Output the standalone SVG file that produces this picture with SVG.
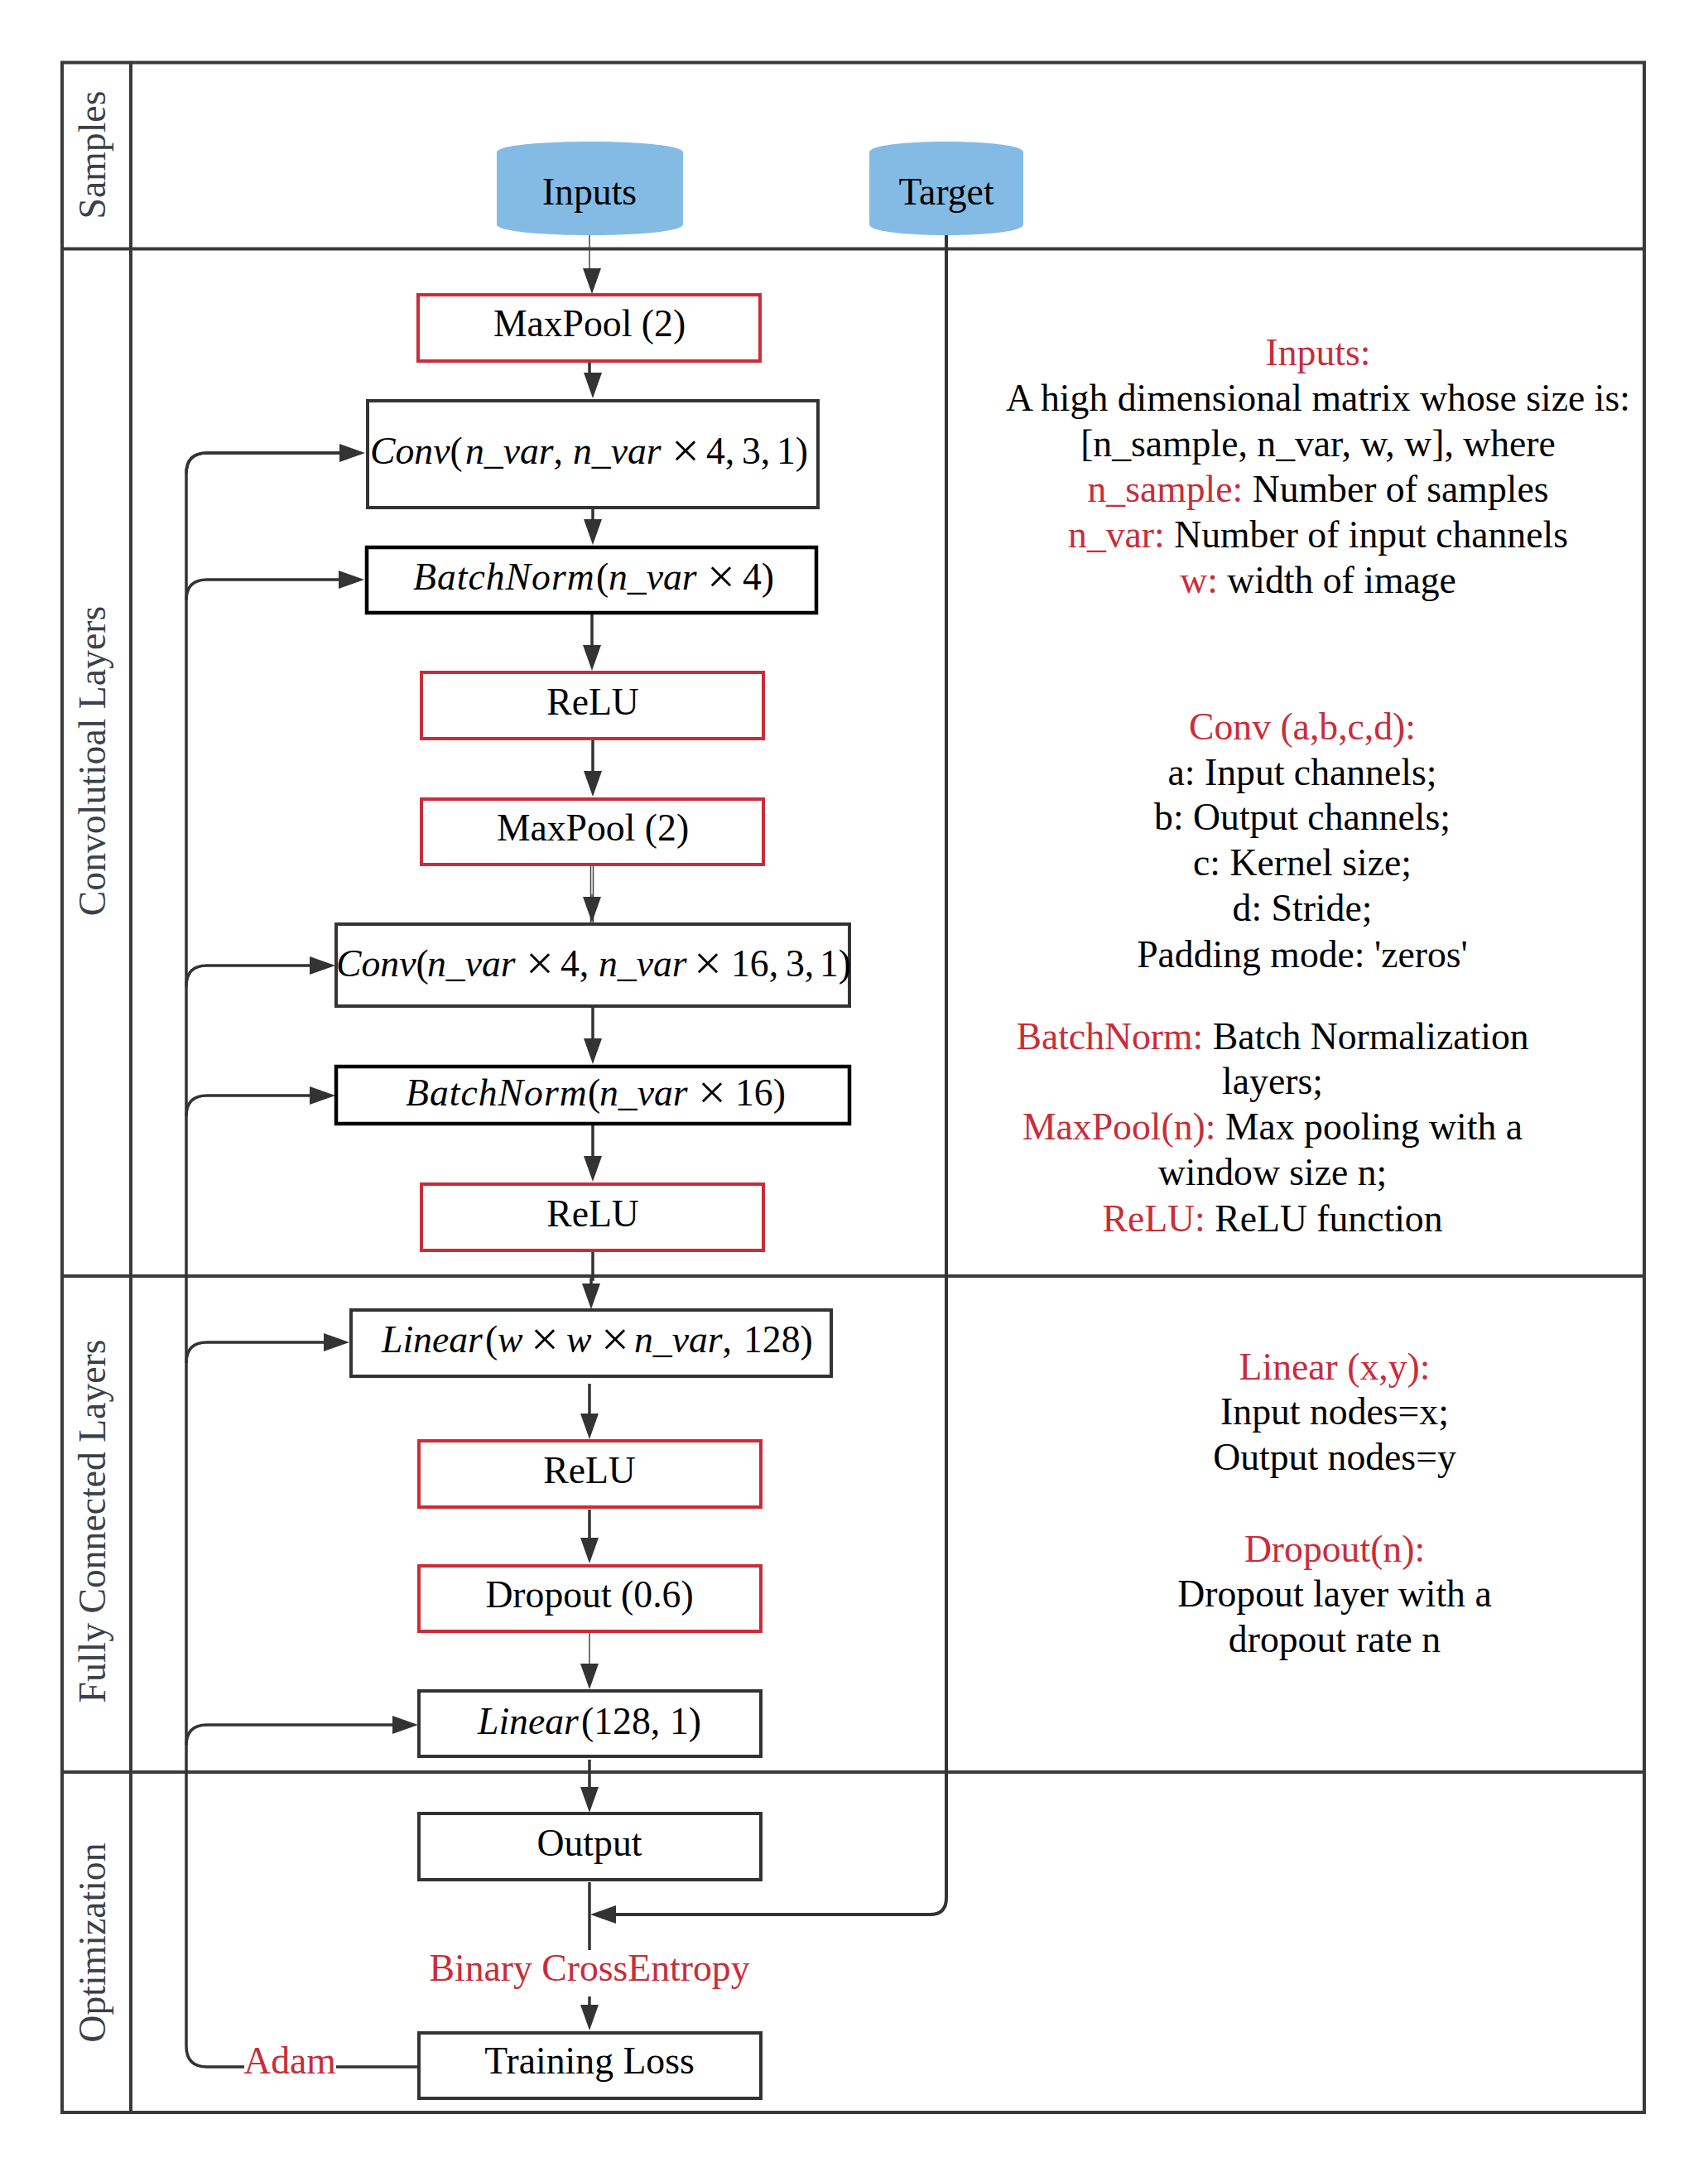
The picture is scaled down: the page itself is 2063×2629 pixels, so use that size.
<svg xmlns="http://www.w3.org/2000/svg" width="2063" height="2629" viewBox="0 0 2063 2629">
<style>
text{font-family:"Liberation Serif","Times New Roman",serif;font-size:45.700px;fill:#000}
.c{text-anchor:middle}
.r{fill:#c92d39}
tspan.r{fill:#c92d39}
.i{font-style:italic}
.x{font-size:60px}
.lane{fill:#3a414a;text-anchor:middle}
.red{fill:#fff;stroke:#c92d39;stroke-width:4}
.blk{fill:#fff;stroke:#333;stroke-width:4}
.bk2{fill:#fff;stroke:#000;stroke-width:4.5}
.cyl{fill:#83bbe5}
.l{fill:none;stroke:#333;stroke-width:4}
.th{fill:none;stroke:#333;stroke-width:3.5}
.tn{fill:none;stroke:#444;stroke-width:1.5}
.arr{marker-end:url(#a)}
.f{fill:none;stroke:#3a3a3a;stroke-width:4}
</style>
<defs>
<marker id="a" markerUnits="userSpaceOnUse" markerWidth="32" markerHeight="24" refX="21" refY="12" orient="auto"><path d="M0 1 L31 12 L0 23 Z" fill="#333"/></marker>
</defs>
<rect width="2063" height="2629" fill="#fff"/>
<g id="lanes">
<rect class="f" x="75" y="75.500" width="1911" height="2475.500"/>
<path class="f" d="M158 75.500V2551M75 300.500H1986M75 1541H1986M75 2140H1986"/>
<text class="lane" transform="translate(127 187) rotate(-90)">Samples</text>
<text class="lane" transform="translate(127 919) rotate(-90)">Convolutioal Layers</text>
<text class="lane" transform="translate(127 1837) rotate(-90)">Fully Connected Layers</text>
<text class="lane" transform="translate(127 2346) rotate(-90)">Optimization</text>
</g>
<g id="connectors">
<path class="tn arr" d="M712 284V330L715 336V345"/>
<path class="th arr" d="M712 436V460H716V471"/>
<path class="th arr" d="M716 613V648"/>
<path class="th arr" d="M715 740V800"/>
<path class="th arr" d="M716 892V952"/>
<path class="tn" d="M713.500 1040V1114M716.500 1040V1114"/>
<path class="tn arr" d="M715 1080V1104"/>
<path class="th arr" d="M716 1215V1275"/>
<path class="th arr" d="M716 1357V1417"/>
<path class="th arr" d="M716 1510V1545H714V1571"/>
<path class="th arr" d="M712 1671V1728"/>
<path class="th arr" d="M712 1823V1878"/>
<path class="tn arr" d="M712 1970V2030"/>
<path class="th arr" d="M712 2125V2179"/>
<path class="th" d="M712 2273V2355"/>
<path class="th arr" d="M712 2411V2442"/>
<path class="l arr" d="M1143 284V2292Q1143 2312 1123 2312H723"/>
<path class="th" d="M505 2496H406M295 2496H250Q225 2496 225 2471V572Q225 547 250 547H431"/>
<path class="th arr" d="M225 572Q225 547 250 547H431"/>
<path class="th arr" d="M225 725Q225 700 250 700H430"/>
<path class="th arr" d="M225 1191Q225 1166 250 1166H395"/>
<path class="th arr" d="M225 1348Q225 1323 250 1323H395"/>
<path class="th arr" d="M225 1646Q225 1621 250 1621H412"/>
<path class="th arr" d="M225 2108Q225 2083 250 2083H495"/>
</g>
<g id="n-inputs"><path class="cyl" d="M600 184C600 176 650 171 712.500 171S825 176 825 184V271C825 279 775 284 712.500 284S600 279 600 271Z"/><text class="c" x="712" y="247">Inputs</text></g>
<g id="n-target"><path class="cyl" d="M1050 184C1050 176 1090 171 1143 171S1236 176 1236 184V271C1236 279 1196 284 1143 284S1050 279 1050 271Z"/><text class="c" x="1143" y="247">Target</text></g>
<g id="n-maxpool1"><rect class="red" x="505" y="356" width="413" height="80"/><text class="c" x="712" y="406">MaxPool (2)</text></g>
<g id="n-conv1"><rect class="blk" x="444" y="484" width="544" height="129"/><text y="560"><tspan class="i" x="447">Conv</tspan>(<tspan class="i" x="562">n_var</tspan>,<tspan class="i" x="692">n_var</tspan><tspan class="x" x="811" dy="4">×</tspan><tspan x="853" dy="-4">4,</tspan><tspan x="896">3,</tspan><tspan x="938">1)</tspan></text></g>
<g id="n-bn1"><rect class="bk2" x="443" y="661" width="543" height="79"/><text y="712"><tspan class="i" x="499" letter-spacing="1">BatchNorm</tspan><tspan x="720">(</tspan><tspan class="i" x="735">n_var</tspan><tspan class="x" x="854" dy="4">×</tspan><tspan x="897" dy="-4">4)</tspan></text></g>
<g id="n-relu1"><rect class="red" x="509" y="812" width="413" height="80"/><text class="c" x="716" y="863">ReLU</text></g>
<g id="n-maxpool2"><rect class="red" x="509" y="965" width="413" height="79"/><text class="c" x="716" y="1015">MaxPool (2)</text></g>
<g id="n-conv2"><rect class="blk" x="406" y="1116" width="620" height="99"/><text y="1179"><tspan class="i" x="406">Conv</tspan>(<tspan class="i" x="516">n_var</tspan><tspan class="x" x="635" dy="4">×</tspan><tspan x="677" dy="-4">4,</tspan><tspan class="i" x="723">n_var</tspan><tspan class="x" x="838" dy="4">×</tspan><tspan x="883" dy="-4">16,</tspan><tspan x="949">3,</tspan><tspan x="990">1)</tspan></text></g>
<g id="n-bn2"><rect class="bk2" x="406" y="1288" width="620" height="69"/><text y="1335"><tspan class="i" x="490" letter-spacing="1">BatchNorm</tspan><tspan x="710">(</tspan><tspan class="i" x="724">n_var</tspan><tspan class="x" x="843" dy="4">×</tspan><tspan x="888" dy="-4">16)</tspan></text></g>
<g id="n-relu2"><rect class="red" x="509" y="1430" width="413" height="80"/><text class="c" x="716" y="1481">ReLU</text></g>
<g id="n-linear1"><rect class="blk" x="424" y="1582" width="580" height="80"/><text y="1633"><tspan class="i" x="461">Linear</tspan><tspan x="586">(</tspan><tspan class="i" x="601">w</tspan><tspan class="x" x="641" dy="4">×</tspan><tspan class="i" x="684" dy="-4">w</tspan><tspan class="x" x="726" dy="4">×</tspan><tspan class="i" x="766" dy="-4">n_var</tspan>,<tspan x="898">128)</tspan></text></g>
<g id="n-relu3"><rect class="red" x="506" y="1740" width="413" height="80"/><text class="c" x="712" y="1791">ReLU</text></g>
<g id="n-dropout"><rect class="red" x="506" y="1891" width="413" height="79"/><text class="c" x="712" y="1941">Dropout (0.6)</text></g>
<g id="n-linear2"><rect class="blk" x="506" y="2042" width="413" height="79"/><text y="2094"><tspan class="i" x="577">Linear</tspan><tspan x="702">(128,</tspan><tspan x="809">1)</tspan></text></g>
<g id="n-output"><rect class="blk" x="506" y="2190" width="413" height="80"/><text class="c" x="712" y="2241">Output</text></g>
<g id="n-loss"><rect class="blk" x="506" y="2455" width="413" height="79"/><text class="c" x="712" y="2504">Training Loss</text></g>
<g id="labels">
<text class="c r" x="712" y="2392">Binary CrossEntropy</text>
<text class="c r" x="350" y="2504">Adam</text>
</g>
<g id="note-inputs">
<text class="c r" x="1592" y="441">Inputs:</text>
<text class="c" x="1592" y="496">A high dimensional matrix whose size is:</text>
<text class="c" x="1592" y="551">[n_sample, n_var, w, w], where</text>
<text class="c" x="1592" y="606"><tspan class="r">n_sample:</tspan> Number of samples</text>
<text class="c" x="1592" y="661"><tspan class="r">n_var:</tspan> Number of input channels</text>
<text class="c" x="1592" y="716"><tspan class="r">w:</tspan> width of image</text>
</g>
<g id="note-conv">
<text class="c r" x="1573" y="893">Conv (a,b,c,d):</text>
<text class="c" x="1573" y="948">a: Input channels;</text>
<text class="c" x="1573" y="1002">b: Output channels;</text>
<text class="c" x="1573" y="1057">c: Kernel size;</text>
<text class="c" x="1573" y="1112">d: Stride;</text>
<text class="c" x="1573" y="1168">Padding mode: 'zeros'</text>
</g>
<g id="note-layers">
<text class="c" x="1537" y="1267"><tspan class="r">BatchNorm:</tspan> Batch Normalization</text>
<text class="c" x="1537" y="1321">layers;</text>
<text class="c" x="1537" y="1376"><tspan class="r">MaxPool(n):</tspan> Max pooling with a</text>
<text class="c" x="1537" y="1431">window size n;</text>
<text class="c" x="1537" y="1487"><tspan class="r">ReLU:</tspan> ReLU function</text>
</g>
<g id="note-linear">
<text class="c r" x="1612" y="1666">Linear (x,y):</text>
<text class="c" x="1612" y="1720">Input nodes=x;</text>
<text class="c" x="1612" y="1775">Output nodes=y</text>
<text class="c r" x="1612" y="1886">Dropout(n):</text>
<text class="c" x="1612" y="1940">Dropout layer with a</text>
<text class="c" x="1612" y="1995">dropout rate n</text>
</g>
</svg>
